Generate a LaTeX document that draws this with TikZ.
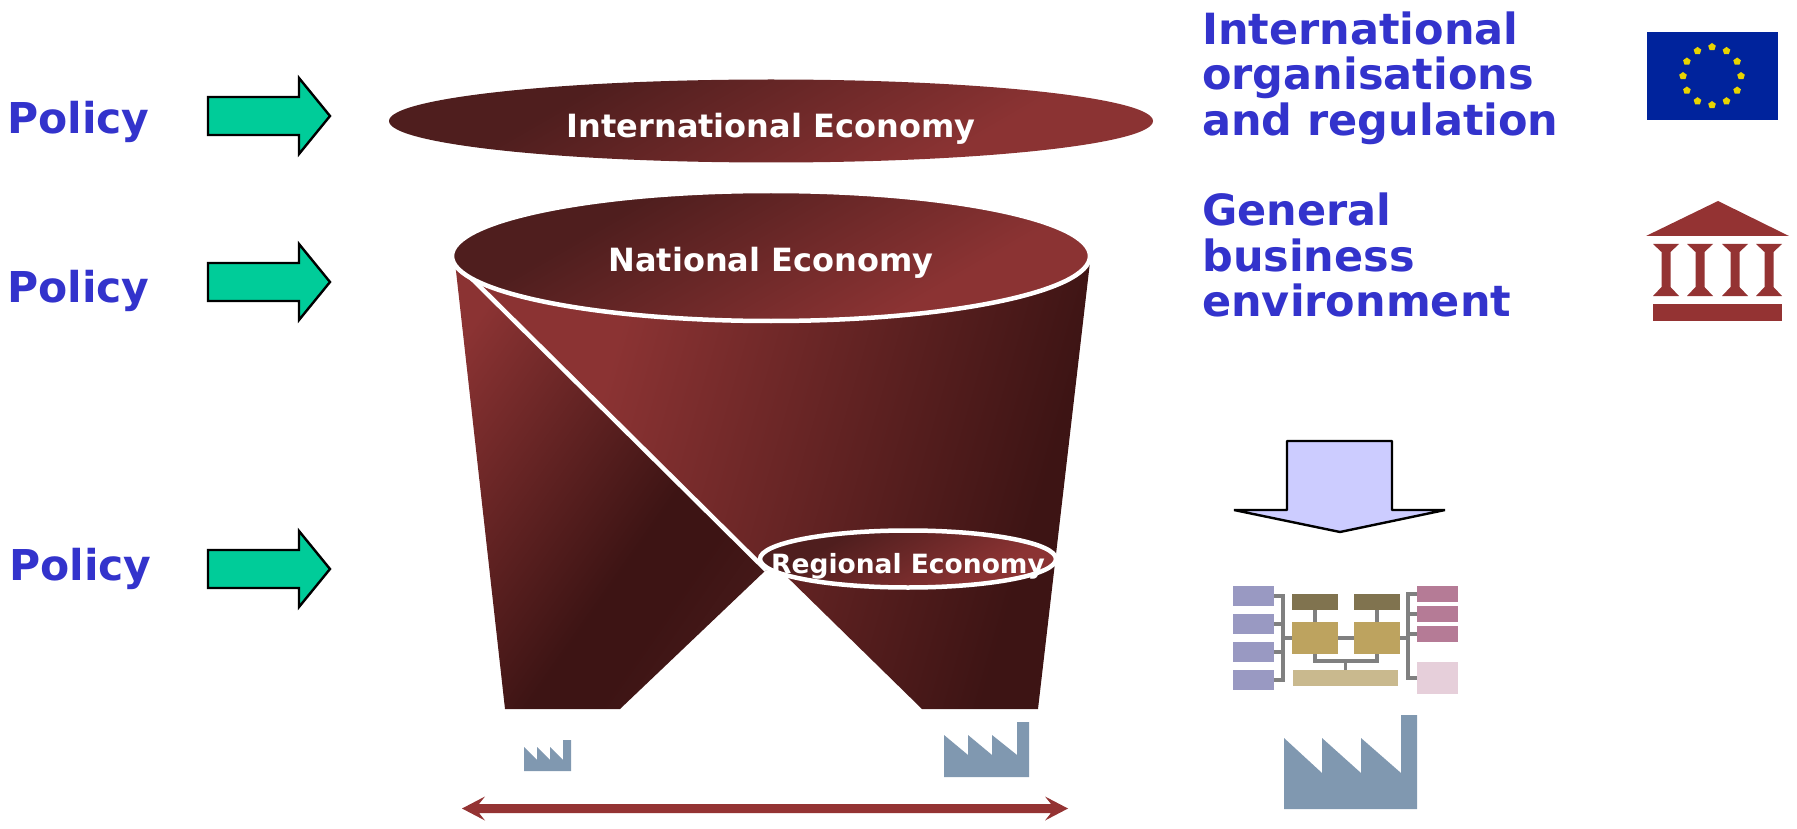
\documentclass[tikz,border=0pt]{standalone}
\usepackage{fontspec}
\setmainfont{DejaVu Sans}
\usetikzlibrary{shapes.geometric}
\definecolor{polblue}{HTML}{3333CC}
\definecolor{wine}{HTML}{943333}
\definecolor{winedark}{HTML}{3D1414}
\definecolor{winemid}{HTML}{4F1E1E}
\definecolor{winered}{HTML}{8B3333}
\definecolor{arrowgreen}{HTML}{00CC99}
\definecolor{lilac}{HTML}{CCCCFF}
\definecolor{factory}{HTML}{8098B0}
\definecolor{flagblue}{HTML}{00239C}
\definecolor{starY}{HTML}{E8D400}
\definecolor{cPurple}{HTML}{9999C2}
\definecolor{cBrown}{HTML}{80734F}
\definecolor{cGold}{HTML}{BDA35F}
\definecolor{cSand}{HTML}{C9B98E}
\definecolor{cPink}{HTML}{B57B96}
\definecolor{cLight}{HTML}{E6CFDA}
\pgfdeclarehorizontalshading{ellshade}{100bp}{color(0bp)=(winemid);color(32bp)=(winemid);color(68bp)=(winered);color(100bp)=(winered)}
\pgfdeclarehorizontalshading{funnelL}{100bp}{color(0bp)=(winered);color(22bp)=(winered);color(58bp)=(winedark);color(66bp)=(winedark);color(85bp)=(winemid);color(100bp)=(winemid)}
\pgfdeclarehorizontalshading{funnelR}{100bp}{color(0bp)=(winered);color(34bp)=(winered);color(72bp)=(winedark);color(100bp)=(winedark)}
\tikzset{
  policytext/.style={text=polblue,font=\bfseries\fontsize{42.5}{42.5}\selectfont,anchor=west,inner sep=0pt},
  righttext/.style={text=polblue,font=\bfseries\fontsize{43}{45.6}\selectfont,anchor=west,inner sep=0pt,align=left},
  econtext/.style={text=white,font=\bfseries\fontsize{32}{32}\selectfont,inner sep=0pt},
  greenarrow/.style={fill=arrowgreen,draw=black,line width=2.4pt,line join=miter},
  econell/.style={ellipse,inner sep=0pt,shade,shading=ellshade,shading angle=-60},
  orgbox/.style={inner sep=0pt,outer sep=0pt,minimum width=#1},
  orgline/.style={draw=gray,line width=3.2pt},
  factoryshape/.style={fill=factory,draw=none},
}
\begin{document}
\begin{tikzpicture}[x=1pt,y=-1pt]
\useasboundingbox (0,0) rectangle (1797,829);
% policy
\node[policytext] (p1) at (7,121.5) {Policy};
\node[policytext] (p2) at (7,290.5) {Policy};
\node[policytext] (p3) at (9,568.5) {Policy};
\foreach \c in {116,282,569}{
  \draw[greenarrow] (208,\c-19) -- (299,\c-19) -- (299,\c-38) -- (330,\c) -- (299,\c+38) -- (299,\c+19) -- (208,\c+19) -- cycle;
}
% funnel
\path[shade,shading=funnelL,shading angle=-35] (455,262) -- (505,709) -- (620,709) -- (766,570) -- cycle;
\path[shade,shading=funnelR,shading angle=-16] (455,262) -- (766,570) -- (780,570) -- (922,709) -- (1038,709) -- (1090,262) -- cycle;
\coordinate (lnA) at (455,262);
\coordinate (lnB) at (766,570);
\draw[white,line width=4.5pt] (lnA) -- (lnB);
% ellipses
\node[econell,minimum width=764pt,minimum height=83pt] (ie) at (771,121) {};
\node[econell,draw=white,line width=4.5pt,minimum width=638pt,minimum height=130pt] (ne) at (771,256) {};
\node[econell,draw=white,line width=4.5pt,minimum width=296pt,minimum height=57pt] (re) at (908,559) {};
\node[econtext] (iet) at (771,129) {International Economy};
\node[econtext] (net) at (771,263) {National Economy};
\node[econtext,font=\bfseries\fontsize{26.5}{26.5}\selectfont] (ret) at (908,566) {Regional Economy};
% right texts
\node[righttext] (t1) at (1202,78) {International\\organisations\\and regulation};
\node[righttext] (t2) at (1202,255) {General\\business\\environment};
% flag
\fill[flagblue] (1647,32) rectangle (1778,120);
\foreach \a in {0,30,...,330}{
  \fill[starY] ({1712+29*cos(\a)+4*cos(90)},{76+29*sin(\a)-4*sin(90)})
    -- ({1712+29*cos(\a)+4*cos(162)},{76+29*sin(\a)-4*sin(162)})
    -- ({1712+29*cos(\a)+4*cos(234)},{76+29*sin(\a)-4*sin(234)})
    -- ({1712+29*cos(\a)+4*cos(306)},{76+29*sin(\a)-4*sin(306)})
    -- ({1712+29*cos(\a)+4*cos(18)},{76+29*sin(\a)-4*sin(18)}) -- cycle;
}
% bank
\fill[wine] (1718,201) -- (1789,236) -- (1646,236) -- cycle;
\foreach \c in {1666,1700,1735,1769}{
  \fill[wine] (\c-13,244) -- (\c+13,244) -- (\c+4.5,252) -- (\c+4.5,287) -- (\c+13,296) -- (\c-13,296) -- (\c-4.5,287) -- (\c-4.5,252) -- cycle;
}
\fill[wine] (1653,304) rectangle (1782,321);
% down arrow
\draw[fill=lilac,draw=black,line width=2.4pt,line join=bevel] (1287,441) -- (1392,441) -- (1392,510) -- (1445,510) -- (1340,532) -- (1234,510) -- (1287,510) -- cycle;
% org chart
\foreach \n/\y in {a1/596,a2/624,a3/652,a4/680}{
  \node[orgbox=41pt,minimum height=20pt,fill=cPurple] (\n) at (1253.5,\y) {};
}
\node[orgbox=46pt,minimum height=16pt,fill=cBrown] (b1) at (1315,602) {};
\node[orgbox=46pt,minimum height=16pt,fill=cBrown] (b2) at (1377,602) {};
\node[orgbox=46pt,minimum height=32pt,fill=cGold] (g1) at (1315,638) {};
\node[orgbox=46pt,minimum height=32pt,fill=cGold] (g2) at (1377,638) {};
\node[orgbox=105pt,minimum height=16pt,fill=cSand] (s) at (1345.5,678) {};
\node[orgbox=41pt,minimum height=16pt,fill=cPink] (c1) at (1437.5,594) {};
\node[orgbox=41pt,minimum height=16pt,fill=cPink] (c2) at (1437.5,614) {};
\node[orgbox=41pt,minimum height=16pt,fill=cPink] (c3) at (1437.5,634) {};
\node[orgbox=41pt,minimum height=32pt,fill=cLight] (c4) at (1437.5,678) {};
\coordinate (jl) at (1283,638);
\coordinate (jr) at (1408,638);
\coordinate (jb) at (1345.5,661);
\draw[orgline] (a1.east) -| (jl) (a2.east) -| (jl) (a3.east) -| (jl) (a4.east) -| (jl);
\draw[orgline] (jl) -- (g1.west);
\draw[orgline] (g1.east) -- (g2.west);
\draw[orgline] (g2.east) -- (jr);
\draw[orgline] (b1.south) -- (g1.north);
\draw[orgline] (b2.south) -- (g2.north);
\draw[orgline] (g1.south) |- (jb) -| (g2.south);
\draw[orgline] (jb) -- (s.north);
\draw[orgline] (c1.west) -| (jr) (c2.west) -| (jr) (c3.west) -| (jr) (c4.west) -| (jr);
% factories
\fill[factoryshape] (1284,738) -- (1322,773) -- (1322,738) -- (1361,773) -- (1361,738) -- (1401,773) -- (1401,715) -- (1417,715) -- (1417,809) -- (1284,809) -- cycle;
\fill[factoryshape] (944,735) -- (968,755) -- (968,735) -- (992,755) -- (992,735) -- (1017,755) -- (1017,722) -- (1029,722) -- (1029,777) -- (944,777) -- cycle;
\fill[factoryshape] (524,747) -- (537,760) -- (537,747) -- (550,760) -- (550,747) -- (563,760) -- (563,740) -- (571,740) -- (571,771) -- (524,771) -- cycle;
% double arrow
\fill[wine] (462,808.5) -- (485,796.5) -- (479,804) -- (1051,804) -- (1045,796.5) -- (1068,808.5) -- (1045,820.5) -- (1051,813) -- (479,813) -- (485,820.5) -- cycle;
\end{tikzpicture}
\end{document}
